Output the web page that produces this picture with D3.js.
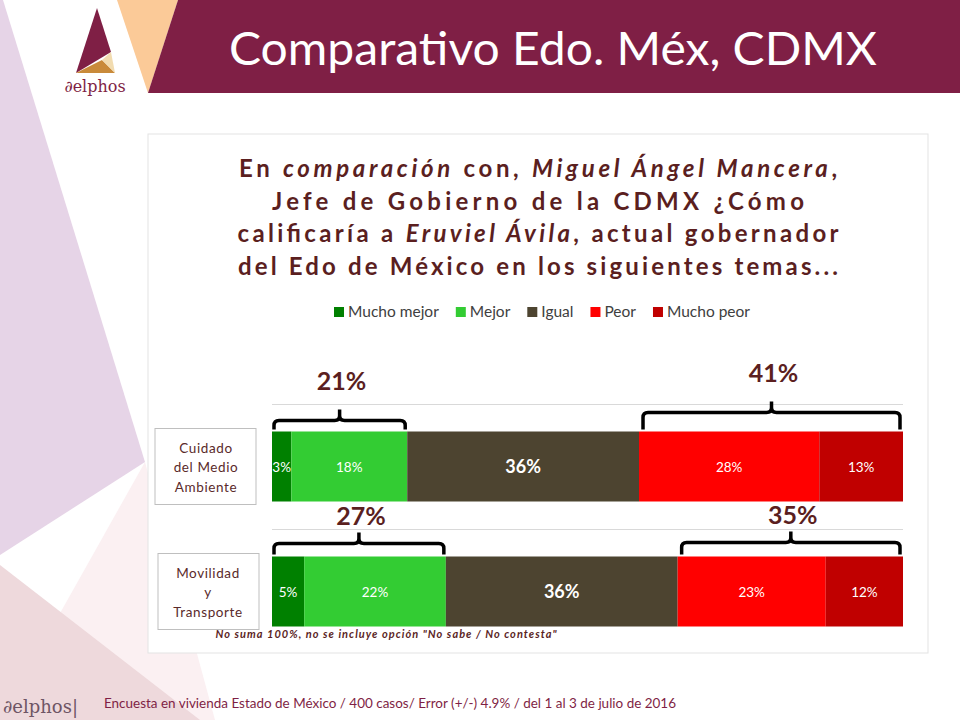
<!DOCTYPE html>
<html>
<head>
<meta charset="utf-8">
<script src="https://cdnjs.cloudflare.com/ajax/libs/d3/7.8.5/d3.min.js"></script>
<style>
  body { margin: 0; background: #fff; }
  svg { display: block; font-family: Lato, "Open Sans", sans-serif; }
</style>
</head>
<body>
<div id="corpo"></div>
<script>
// datos del grafico
var categorias = ["Cuidado del Medio Ambiente", "Movilidad y Transporte"];
var lineasCategoria = [["Cuidado", "del Medio", "Ambiente"], ["Movilidad", "y", "Transporte"]];
var series = ["Mucho mejor", "Mejor", "Igual", "Peor", "Mucho peor"];
var muchoMejor = [3, 5];
var mejor = [18, 22];
var igual = [36, 36];
var peor = [28, 23];
var muchoPeor = [13, 12];
var totalMejor = [21, 27];
var totalPeor = [41, 35];

var colores = {
    "Mucho mejor": "#008000",
    "Mejor": "#33cc33",
    "Igual": "#4d4430",
    "Peor": "#ff0000",
    "Mucho peor": "#c00000"
};
var granate = "#7f1f45";
var cafe = "#5b1f1f";

var width = 960, height = 720;

var svg = d3.select("#corpo").append("svg")
    .attr("width", width)
    .attr("height", height);

// fondo decorativo
svg.append("polygon").attr("points", "145,462 0,720 215,720").style("fill", "#fbf0f2");
svg.append("polygon").attr("points", "0,565 200,720 0,720").style("fill", "#eed9dc");
svg.append("polygon").attr("points", "0,0 3,0 145,462 0,555").style("fill", "#e6d4e7");

// encabezado
svg.append("polygon").attr("points", "117,0 178,0 148,93").style("fill", "#fbca98");
svg.append("polygon").attr("points", "178,0 960,0 960,93 148,93").style("fill", granate);
svg.append("text")
    .attr("x", 553).attr("y", 65)
    .attr("text-anchor", "middle")
    .attr("textLength", 648)
    .attr("lengthAdjust", "spacingAndGlyphs")
    .style("font-size", "46px")
    .style("fill", "#fff")
    .text("Comparativo Edo. Méx, CDMX");

// logo
svg.append("polygon").attr("points", "97,8 111,52 76,73").style("fill", granate);
svg.append("polygon").attr("points", "76,73 115,73 102,60").style("fill", "#c98a3a");
svg.append("polygon").attr("points", "102,60 111,52 115,73").style("fill", "#f2dcb0");
svg.append("text")
    .attr("x", 95).attr("y", 92)
    .attr("text-anchor", "middle")
    .style("font-family", "'DejaVu Serif', 'Liberation Serif', serif")
    .style("font-size", "16px")
    .style("fill", granate)
    .text("∂elphos");

// panel
svg.append("rect")
    .attr("x", 148).attr("y", 134)
    .attr("width", 780).attr("height", 519)
    .style("fill", "#fff")
    .style("stroke", "#e3e3e3");

// pregunta
var pregunta = [
    [["En ", 0], ["comparación", 1], [" con, ", 0], ["Miguel Ángel Mancera", 1], [",", 0]],
    [["Jefe de Gobierno de la CDMX ¿Cómo", 0]],
    [["calificaría a ", 0], ["Eruviel Ávila", 1], [", actual gobernador", 0]],
    [["del Edo de México en los siguientes temas...", 0]]
];
var largos = [598, 532, 601, 600];
pregunta.forEach(function(linea, i) {
    var t = svg.append("text")
        .attr("x", 538).attr("y", 177 + i * 32.5)
        .attr("text-anchor", "middle")
        .attr("textLength", largos[i])
        .attr("lengthAdjust", "spacing")
        .style("font-size", "24px")
        .style("font-weight", "bold")
        .style("fill", cafe);
    linea.forEach(function(p) {
        t.append("tspan")
            .style("font-style", p[1] ? "italic" : "normal")
            .text(p[0]);
    });
});

// leyenda
var leyenda = svg.append("g");
var lx = 0;
series.forEach(function(s) {
    var g = leyenda.append("g").attr("transform", "translate(" + lx + ",0)");
    g.append("rect").attr("x", 0).attr("y", -10).attr("width", 10).attr("height", 10)
        .style("fill", colores[s]);
    var tx = g.append("text").attr("x", 14).attr("y", 0)
        .style("font-size", "15.5px").style("fill", "#404040").text(s);
    lx += 14 + tx.node().getComputedTextLength() + 17;
});
leyenda.attr("transform", "translate(" + (542 - (lx - 17) / 2) + ",317)");

// escalas
var datos = categorias.map(function(c, i) {
    return {
        cat: c,
        "Mucho mejor": muchoMejor[i],
        "Mejor": mejor[i],
        "Igual": igual[i],
        "Peor": peor[i],
        "Mucho peor": muchoPeor[i]
    };
});
var pilas = d3.stack().keys(series)(datos);
var maximo = d3.max(datos, function(d) { return d3.sum(series, function(s) { return d[s]; }); });

var x = d3.scaleLinear().domain([0, maximo]).range([272, 903]);
var y = d3.scaleBand().domain(categorias).range([404, 654]).paddingInner(0.44).paddingOuter(0.22);
var paso = y.step();

// lineas de cuadricula
svg.append("g").selectAll("line")
    .data(categorias)
    .enter().append("line")
    .attr("x1", x(0)).attr("x2", x(maximo))
    .attr("y1", function(d) { return Math.round(y(d) - paso * 0.22) + 0.5; })
    .attr("y2", function(d) { return Math.round(y(d) - paso * 0.22) + 0.5; })
    .style("stroke", "#d9d9d9");

// barras
var capas = svg.append("g").selectAll("g")
    .data(pilas)
    .enter().append("g")
    .style("fill", function(d) { return colores[d.key]; });

capas.selectAll("rect")
    .data(function(d) { return d; })
    .enter().append("rect")
    .attr("x", function(d) { return x(d[0]); })
    .attr("y", function(d) { return y(d.data.cat); })
    .attr("width", function(d) { return x(d[1]) - x(d[0]); })
    .attr("height", y.bandwidth());

// etiquetas de valores
pilas.forEach(function(capa) {
    svg.append("g").selectAll("text")
        .data(capa)
        .enter().append("text")
        .attr("x", function(d) { return (x(d[0]) + x(d[1])) / 2; })
        .attr("y", function(d) { return y(d.data.cat) + y.bandwidth() / 2 + (capa.key == "Igual" ? 6 : 5); })
        .attr("text-anchor", "middle")
        .style("fill", "#fff")
        .style("font-size", capa.key == "Igual" ? "18px" : "13.5px")
        .style("font-weight", capa.key == "Igual" ? "bold" : "normal")
        .text(function(d) { return (d[1] - d[0]) + "%"; });
});

// etiquetas de categoria
categorias.forEach(function(c, i) {
    var cy = y(c) + y.bandwidth() / 2;
    svg.append("rect")
        .attr("x", 155 + i * 3).attr("y", cy - 38)
        .attr("width", 101).attr("height", 76)
        .style("fill", "#fff")
        .style("stroke", "#bfbfbf");
    lineasCategoria[i].forEach(function(l, j) {
        svg.append("text")
            .attr("x", 206 + i * 2).attr("y", cy - 14 + j * 19.5)
            .attr("text-anchor", "middle")
            .style("font-size", "13.5px")
            .style("letter-spacing", "0.6px")
            .style("fill", "#5a2a2a")
            .text(l);
    });
});

// llaves
function llave(x0, x1, top, b) {
    var r = 5, cx = (x0 + x1) / 2, n = top - 11;
    return "M" + x0 + "," + b + " L" + x0 + "," + (top + r) +
        " Q" + x0 + "," + top + " " + (x0 + r) + "," + top +
        " L" + (cx - r) + "," + top + " Q" + cx + "," + top + " " + cx + "," + (top - r) +
        " L" + cx + "," + n +
        " M" + cx + "," + (top - r) + " Q" + cx + "," + top + " " + (cx + r) + "," + top +
        " L" + (x1 - r) + "," + top + " Q" + x1 + "," + top + " " + x1 + "," + (top + r) +
        " L" + x1 + "," + b;
}

// separacion de cada llave respecto a la barra y de su etiqueta
var altoLlave = [[-11, -19], [-13, -14]];
var altoEtiqueta = [31, 19];

categorias.forEach(function(c, i) {
    var top = y(c);
    var finMejor = muchoMejor[i] + mejor[i];
    var iniPeor = finMejor + igual[i];
    var finPeor = iniPeor + peor[i] + muchoPeor[i];
    var grupos = [
        { x0: x(0) + 2, x1: x(finMejor) - 2, t: top + altoLlave[i][0], v: totalMejor[i] },
        { x0: x(iniPeor) + 4, x1: x(finPeor) - 3, t: top + altoLlave[i][1], v: totalPeor[i] }
    ];
    grupos.forEach(function(gr) {
        svg.append("path")
            .attr("d", llave(gr.x0, gr.x1, gr.t, top - 2))
            .style("fill", "none")
            .style("stroke", "#000")
            .style("stroke-width", 3.5);
        svg.append("text")
            .attr("x", (gr.x0 + gr.x1) / 2 + 2)
            .attr("y", gr.t - altoEtiqueta[i])
            .attr("text-anchor", "middle")
            .style("font-size", "25px")
            .style("font-weight", "bold")
            .style("fill", cafe)
            .text(gr.v + "%");
    });
});

// nota
svg.append("text")
    .attr("x", 386).attr("y", 638)
    .attr("text-anchor", "middle")
    .attr("textLength", 341)
    .attr("lengthAdjust", "spacing")
    .style("font-size", "11px")
    .style("font-style", "italic")
    .style("font-weight", "bold")
    .style("fill", cafe)
    .text("No suma 100%, no se incluye opción \"No sabe / No contesta\"");

// pie
svg.append("text")
    .attr("x", 3).attr("y", 713)
    .style("font-family", "'DejaVu Serif', 'Liberation Serif', serif")
    .style("font-size", "18px")
    .style("fill", "#6e5565")
    .text("∂elphos|");
svg.append("text")
    .attr("x", 104).attr("y", 708)
    .attr("textLength", 572)
    .attr("lengthAdjust", "spacingAndGlyphs")
    .style("font-size", "13px")
    .style("fill", granate)
    .text("Encuesta en vivienda Estado de México / 400 casos/ Error (+/-) 4.9%  / del 1 al 3 de julio de 2016");
</script>
</body>
</html>
